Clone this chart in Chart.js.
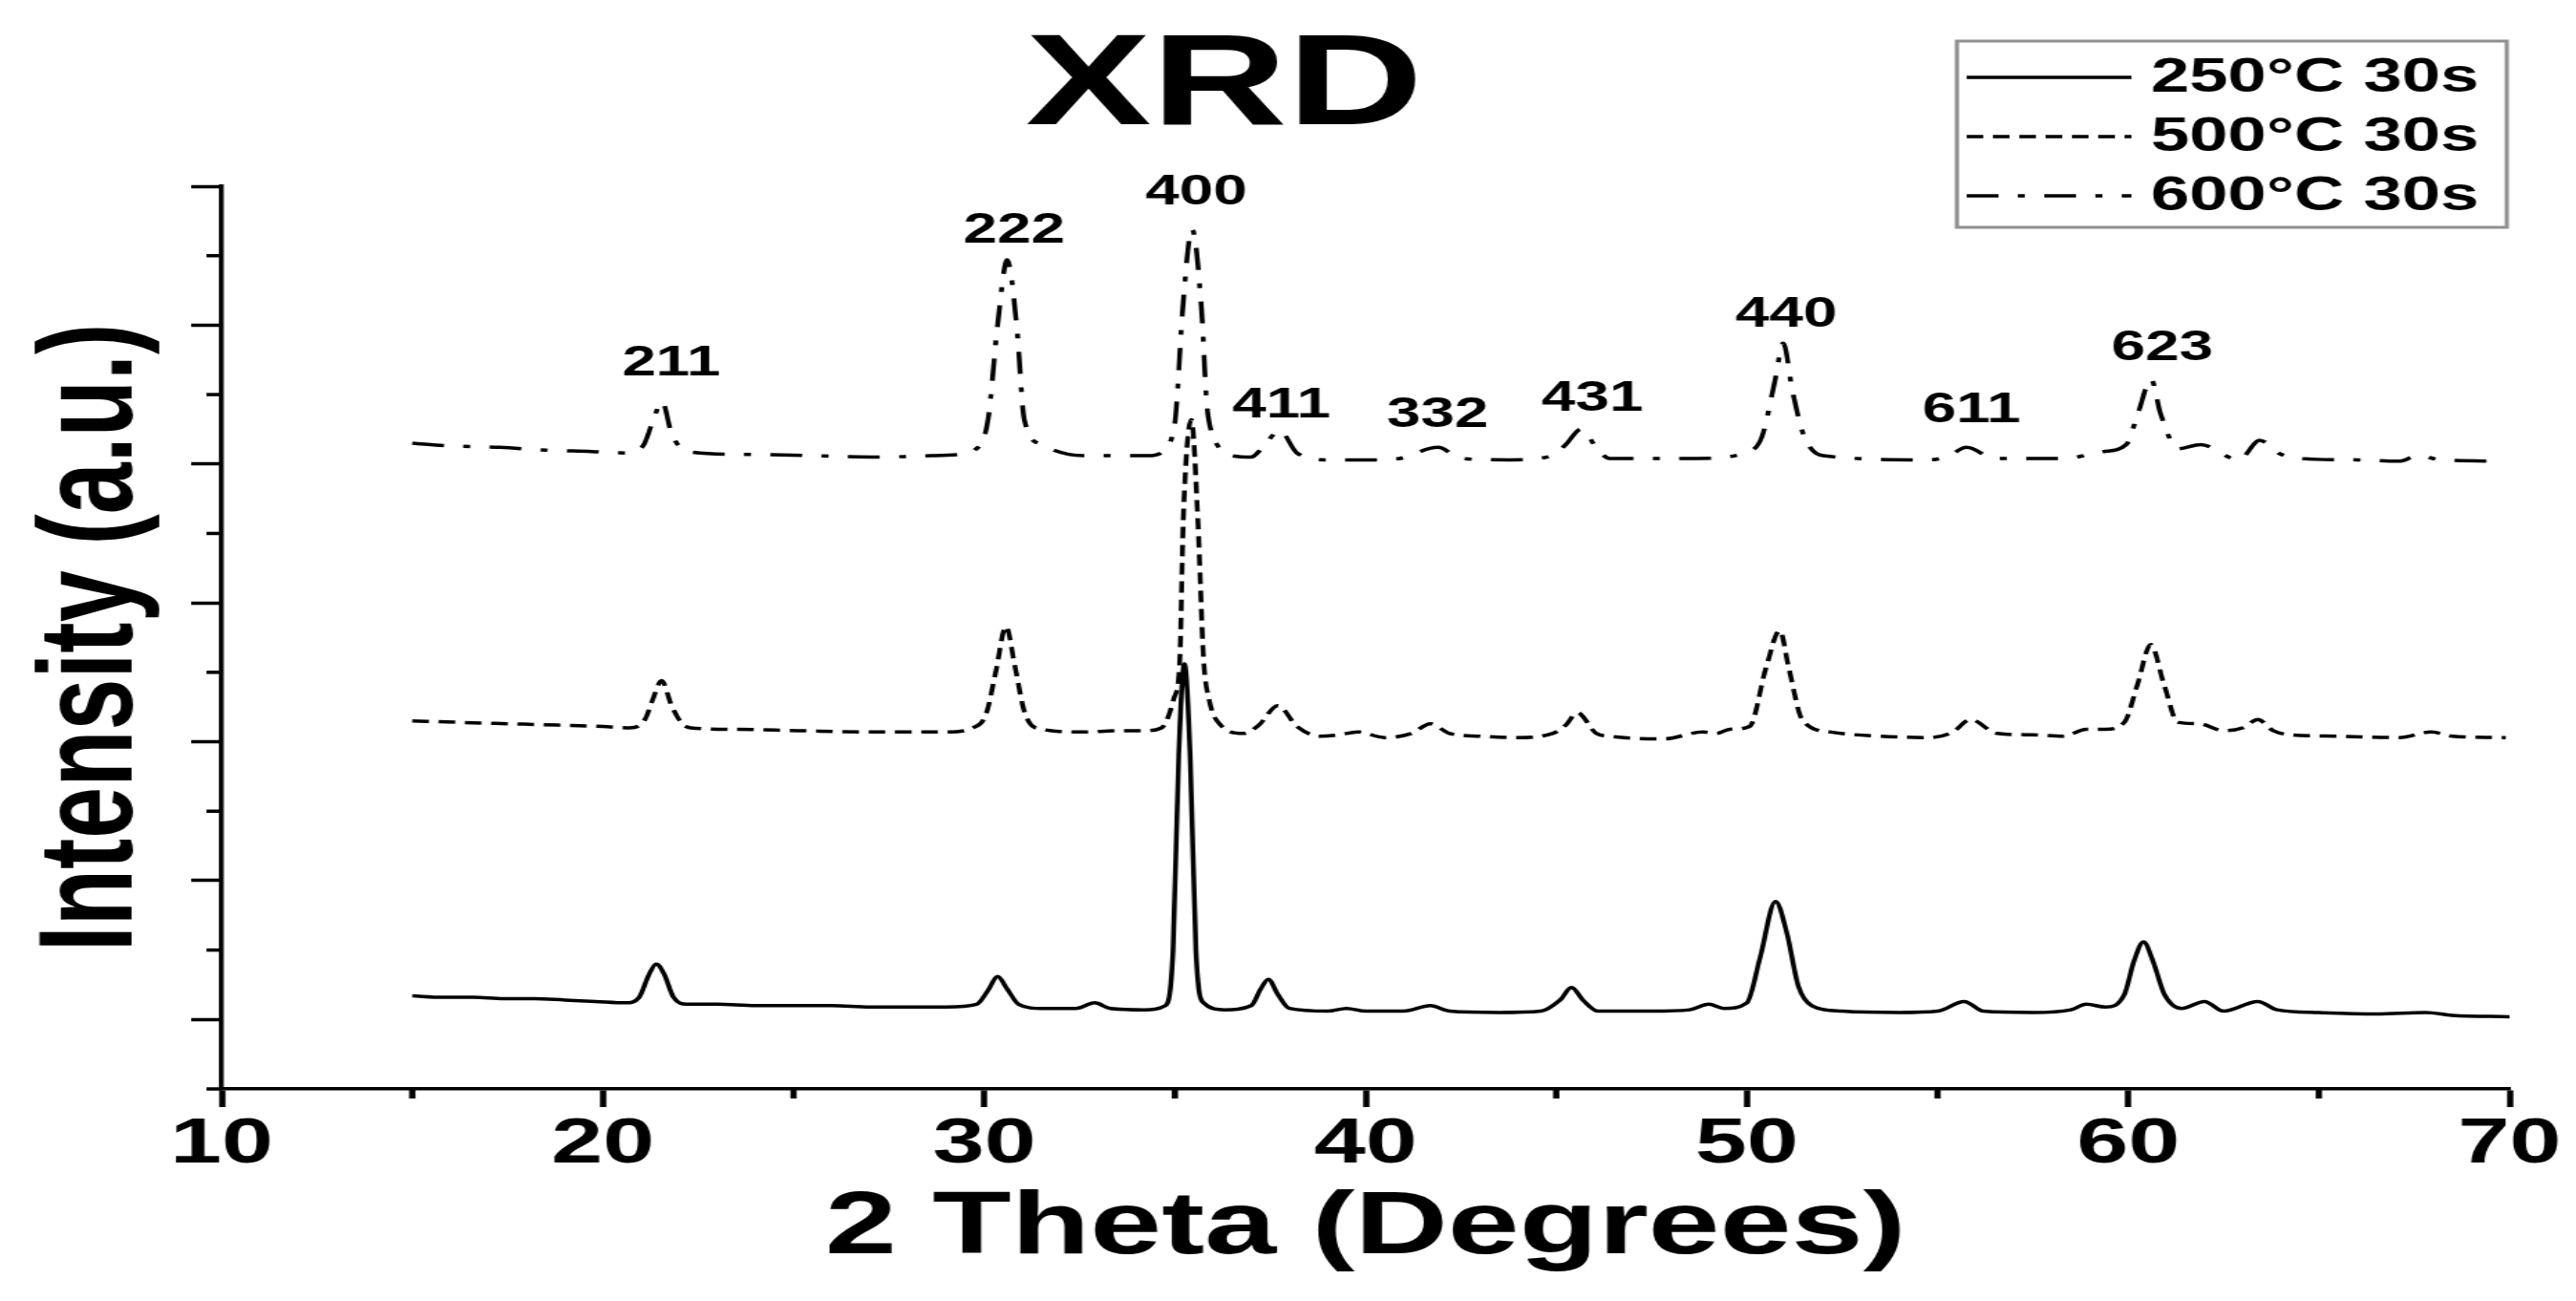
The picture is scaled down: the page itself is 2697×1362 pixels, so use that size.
<!DOCTYPE html>
<html>
<head>
<meta charset="utf-8">
<title>XRD</title>
<script src="https://cdn.jsdelivr.net/npm/chart.js@4.4.1/dist/chart.umd.min.js"></script>
<style>
  html, body { margin: 0; padding: 0; background: #fff; overflow: hidden; }
</style>
</head>
<body>
<!-- the figure is wider than it is drawn: the canvas is stretched sideways -->
<canvas id="xrdChart" width="1860" height="1362" style="display:block;width:2697px;height:1362px"></canvas>
<script>
// ---- Data (2 theta in degrees, intensity in offset a.u.) ----
const seriesLabels = ["250°C 30s", "500°C 30s", "600°C 30s"];

const theta250 = [15.0, 15.8, 16.6, 17.4, 18.2, 19.0, 19.8, 20.6, 20.95, 21.2, 21.4, 21.6, 21.85, 22.2, 23.0, 24.0, 25.0, 26.0, 27.0, 28.0, 29.0, 29.8, 30.1, 30.35, 30.6, 30.9, 31.5, 32.4, 32.9, 33.3, 34.2, 34.75, 34.95, 35.1, 35.25, 35.4, 35.55, 35.75, 36.3, 37.0, 37.25, 37.45, 37.7, 38.0, 39.0, 39.5, 40.0, 41.0, 41.7, 42.2, 43.5, 44.6, 45.1, 45.4, 45.7, 46.1, 47.5, 48.5, 49.0, 49.4, 50.0, 50.35, 50.75, 51.05, 51.35, 51.7, 52.5, 54.0, 55.0, 55.7, 56.2, 57.5, 58.5, 58.9, 59.4, 59.9, 60.15, 60.4, 60.65, 60.95, 61.4, 62.0, 62.5, 63.4, 63.9, 65.0, 66.5, 67.8, 68.5, 70.0];
const int250 = [0.17, 0.16, 0.16, 0.15, 0.15, 0.14, 0.13, 0.12, 0.16, 0.32, 0.40, 0.33, 0.16, 0.11, 0.11, 0.10, 0.10, 0.10, 0.09, 0.09, 0.09, 0.11, 0.21, 0.31, 0.22, 0.11, 0.08, 0.08, 0.12, 0.08, 0.07, 0.10, 0.50, 1.90, 2.56, 1.90, 0.50, 0.12, 0.07, 0.10, 0.22, 0.29, 0.18, 0.08, 0.06, 0.08, 0.06, 0.06, 0.10, 0.06, 0.05, 0.06, 0.14, 0.23, 0.14, 0.06, 0.06, 0.07, 0.11, 0.08, 0.12, 0.45, 0.85, 0.62, 0.24, 0.10, 0.06, 0.05, 0.06, 0.13, 0.06, 0.05, 0.07, 0.11, 0.09, 0.18, 0.42, 0.56, 0.42, 0.18, 0.08, 0.13, 0.06, 0.13, 0.07, 0.05, 0.04, 0.05, 0.03, 0.02];

const theta500 = [15.0, 16.2, 17.5, 18.8, 20.0, 20.7, 21.1, 21.3, 21.54, 21.8, 22.05, 22.3, 23.5, 25.1, 27.0, 29.0, 29.7, 30.05, 30.3, 30.57, 30.8, 31.05, 31.35, 32.6, 33.5, 34.2, 34.65, 34.97, 35.13, 35.22, 35.43, 35.6, 35.75, 35.9, 36.2, 36.8, 37.2, 37.7, 38.2, 38.8, 39.3, 39.8, 40.5, 41.2, 41.7, 42.2, 43.0, 43.9, 44.9, 45.25, 45.55, 46.05, 46.4, 47.8, 48.85, 49.2, 49.55, 50.07, 50.5, 50.86, 51.1, 51.45, 52.2, 53.5, 54.8, 55.4, 55.86, 56.56, 57.5, 58.3, 58.9, 59.4, 59.9, 60.24, 60.59, 60.94, 61.3, 61.85, 62.5, 63.0, 63.4, 63.8, 64.25, 65.5, 67.1, 67.95, 68.5, 69.9];
const int500 = [2.15, 2.14, 2.13, 2.12, 2.11, 2.10, 2.16, 2.30, 2.44, 2.26, 2.14, 2.10, 2.09, 2.08, 2.07, 2.07, 2.10, 2.20, 2.50, 2.83, 2.55, 2.22, 2.10, 2.07, 2.08, 2.08, 2.10, 2.31, 2.60, 3.60, 4.32, 3.60, 2.60, 2.30, 2.12, 2.06, 2.12, 2.26, 2.11, 2.04, 2.05, 2.07, 2.03, 2.06, 2.13, 2.06, 2.04, 2.03, 2.06, 2.12, 2.21, 2.06, 2.04, 2.02, 2.07, 2.06, 2.09, 2.11, 2.53, 2.80, 2.53, 2.16, 2.07, 2.04, 2.03, 2.07, 2.16, 2.06, 2.05, 2.04, 2.09, 2.09, 2.14, 2.41, 2.70, 2.41, 2.14, 2.13, 2.08, 2.10, 2.16, 2.08, 2.05, 2.04, 2.03, 2.07, 2.04, 2.03];

const theta600 = [15.0, 16.0, 17.3, 18.5, 19.7, 20.6, 21.05, 21.3, 21.55, 21.8, 22.2, 23.6, 25.5, 27.2, 28.6, 29.4, 29.75, 30.1, 30.35, 30.6, 30.85, 31.05, 31.5, 32.6, 33.5, 34.3, 34.75, 35.0, 35.05, 35.2, 35.45, 35.7, 35.83, 35.9, 36.15, 36.5, 37.0, 37.3, 37.75, 38.2, 39.0, 40.4, 40.9, 41.9, 42.5, 43.8, 44.9, 45.25, 45.65, 46.1, 46.4, 48.7, 50.05, 50.4, 50.75, 50.95, 51.2, 51.5, 52.0, 54.8, 55.3, 55.76, 56.5, 58.3, 59.35, 59.95, 60.25, 60.6, 60.85, 61.3, 61.9, 62.9, 63.45, 64.0, 64.5, 66.0, 67.1, 67.6, 68.2, 69.9];
const int600 = [4.15, 4.13, 4.12, 4.10, 4.09, 4.08, 4.13, 4.30, 4.45, 4.22, 4.09, 4.07, 4.06, 4.05, 4.06, 4.07, 4.10, 4.32, 5.00, 5.47, 5.00, 4.32, 4.14, 4.06, 4.06, 4.06, 4.11, 4.30, 4.45, 5.10, 5.69, 5.10, 4.45, 4.30, 4.12, 4.06, 4.05, 4.12, 4.24, 4.08, 4.03, 4.03, 4.04, 4.12, 4.04, 4.03, 4.06, 4.14, 4.25, 4.10, 4.04, 4.04, 4.09, 4.20, 4.62, 4.87, 4.52, 4.20, 4.06, 4.03, 4.06, 4.12, 4.04, 4.04, 4.09, 4.14, 4.36, 4.61, 4.36, 4.11, 4.14, 4.03, 4.17, 4.07, 4.04, 4.03, 4.02, 4.06, 4.03, 4.02];

// Miller index labels above the 600°C peaks
const peakNames = ["211", "222", "400", "411", "332", "431", "440", "611", "623"];
const peakTheta = [21.79, 30.78, 35.56, 37.79, 41.89, 45.95, 51.03, 55.89, 60.89];
const peakLevel = [4.72, 5.68, 5.955, 4.42, 4.35, 4.47, 5.07, 4.385, 4.83];

// Axis ticks
const xMinorTicks = [15, 25, 35, 45, 55, 65];
const yMinorTicks = [-0.5, 0.5, 1.5, 2.5, 3.5, 4.5, 5.5];

const FONT = '"Liberation Sans", Arial, Helvetica, sans-serif';
Chart.defaults.font.family = FONT;
Chart.defaults.color = '#000';

function toPoints(xs, ys) {
  return xs.map((v, i) => ({ x: v, y: ys[i] }));
}

// ---- Plugins ----
// short in-between ticks on both axes
const minorTicks = {
  id: 'minorTicks',
  afterDraw(chart) {
    const { ctx, chartArea, scales: { x, y } } = chart;
    ctx.save();
    ctx.strokeStyle = '#000';
    ctx.lineWidth = 4.5;
    xMinorTicks.forEach(v => {
      const px = x.getPixelForValue(v);
      ctx.beginPath();
      ctx.moveTo(px, chartArea.bottom);
      ctx.lineTo(px, chartArea.bottom + 10);
      ctx.stroke();
    });
    ctx.lineWidth = 3.5;
    yMinorTicks.forEach(v => {
      const py = y.getPixelForValue(v);
      ctx.beginPath();
      ctx.moveTo(chartArea.left, py);
      ctx.lineTo(chartArea.left - 11, py);
      ctx.stroke();
    });
    ctx.restore();
  }
};

// big title and peak labels
const chartTexts = {
  id: 'chartTexts',
  afterDraw(chart) {
    const { ctx, scales: { x, y } } = chart;
    ctx.save();
    ctx.fillStyle = '#000';
    ctx.textAlign = 'center';
    ctx.textBaseline = 'middle';
    ctx.font = 'bold 136px ' + FONT;
    ctx.fillText('XRD', 884, 92);

    ctx.font = 'bold 44px ' + FONT;
    peakNames.forEach((t, i) => {
      ctx.fillText(t, x.getPixelForValue(peakTheta[i]), y.getPixelForValue(peakLevel[i]));
    });
    ctx.restore();
  }
};

// boxed legend, top right
const boxLegend = {
  id: 'boxLegend',
  afterDraw(chart) {
    const ctx = chart.ctx;
    ctx.save();
    ctx.strokeStyle = '#8f8f8f';
    ctx.lineWidth = 3;
    ctx.strokeRect(1413, 43, 397, 195);
    chart.data.datasets.forEach((ds, i) => {
      const rowY = 81 + i * 62;
      ctx.strokeStyle = ds.borderColor;
      ctx.lineWidth = ds.borderWidth;
      ctx.setLineDash(ds.borderDash);
      ctx.beginPath();
      ctx.moveTo(1420, rowY);
      ctx.lineTo(1539, rowY);
      ctx.stroke();
      ctx.setLineDash([]);
      ctx.fillStyle = '#000';
      ctx.font = 'bold 50px ' + FONT;
      ctx.textAlign = 'left';
      ctx.textBaseline = 'middle';
      ctx.fillText(ds.label, 1553, rowY + 1);
    });
    ctx.restore();
  }
};

// ---- Chart ----
const lineStyles = [[], [12, 7], [23, 14, 5, 14]];
const thetas = [theta250, theta500, theta600];
const intensities = [int250, int500, int600];

new Chart(document.getElementById('xrdChart'), {
  type: 'line',
  data: {
    datasets: seriesLabels.map((label, i) => ({
      label: label,
      data: toPoints(thetas[i], intensities[i]),
      borderColor: '#000',
      borderWidth: 3.5,
      borderDash: lineStyles[i],
      pointRadius: 0,
      fill: false,
      cubicInterpolationMode: 'monotone'
    }))
  },
  options: {
    responsive: false,
    devicePixelRatio: 1,
    animation: false,
    layout: { padding: { top: 195, right: 48, bottom: 0, left: 0 } },
    plugins: {
      legend: { display: false },
      title: { display: false },
      tooltip: { enabled: false }
    },
    scales: {
      x: {
        type: 'linear',
        min: 10,
        max: 70,
        afterFit: s => { s.height = 222; },
        border: { display: true, color: '#000', width: 3.5 },
        grid: { drawOnChartArea: false, drawTicks: true, tickLength: 19, tickWidth: 4.5, tickColor: '#000' },
        ticks: {
          stepSize: 10,
          padding: 6,
          maxRotation: 0,
          autoSkip: false,
          color: '#000',
          font: { size: 67, weight: 'bold', lineHeight: 1 }
        },
        title: {
          display: true,
          text: '2 Theta (Degrees)',
          color: '#000',
          font: { size: 93, weight: 'bold', lineHeight: 1 },
          padding: { top: 0, bottom: 29 }
        }
      },
      y: {
        type: 'linear',
        min: -0.5,
        max: 6,
        afterFit: s => { s.width = 160; },
        border: { display: true, color: '#000', width: 3.5 },
        grid: { drawOnChartArea: false, drawTicks: true, tickLength: 22, tickWidth: 3.5, tickColor: '#000' },
        ticks: { display: false, stepSize: 1, includeBounds: false },
        title: {
          display: true,
          text: 'Intensity (a.u.)',
          color: '#000',
          font: { size: 97, weight: 'bold', lineHeight: 1 },
          padding: { top: 20, bottom: 0 }
        }
      }
    }
  },
  plugins: [minorTicks, chartTexts, boxLegend]
});
</script>
</body>
</html>
